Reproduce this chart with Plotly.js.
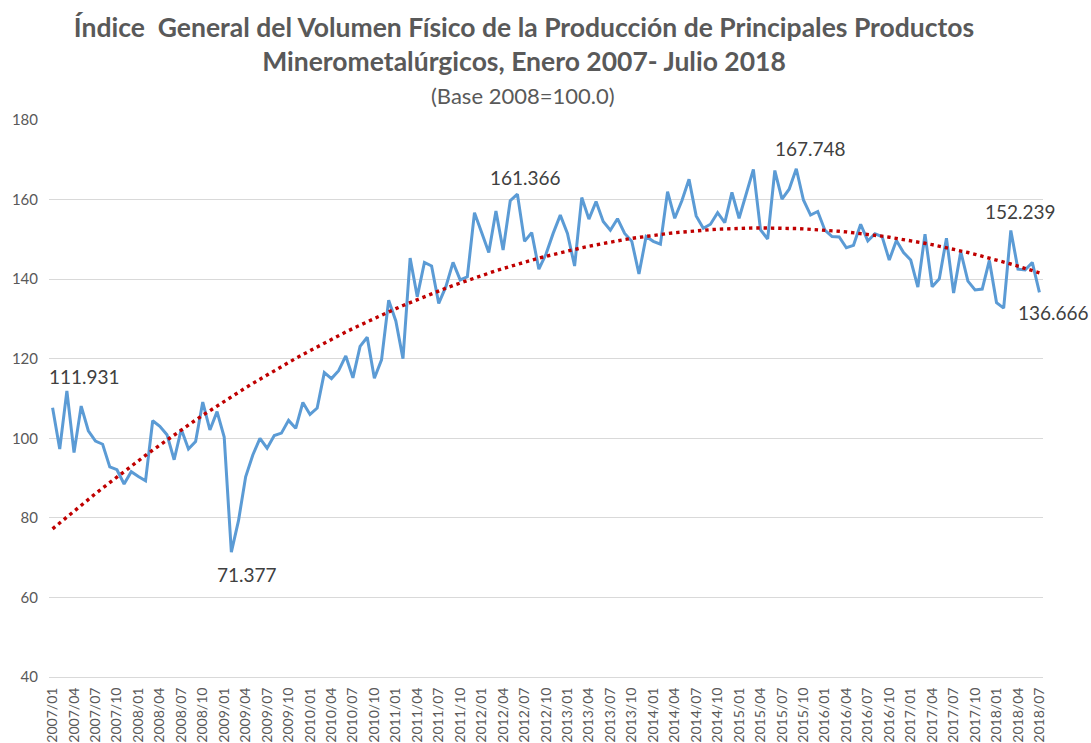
<!DOCTYPE html>
<html>
<head>
<meta charset="utf-8">
<script src="https://cdn.plot.ly/plotly-3.0.1.min.js"></script>
<style>
  html, body { margin: 0; padding: 0; background: #fff; }
  #chart { width: 1091px; height: 743px; }
</style>
</head>
<body>
<div id="chart"></div>
<script>
// Tick labels shown on the x axis (every third month)
const tickLabels = [
  "2007/01", "2007/04", "2007/07", "2007/10",
  "2008/01", "2008/04", "2008/07", "2008/10",
  "2009/01", "2009/04", "2009/07", "2009/10",
  "2010/01", "2010/04", "2010/07", "2010/10",
  "2011/01", "2011/04", "2011/07", "2011/10",
  "2012/01", "2012/04", "2012/07", "2012/10",
  "2013/01", "2013/04", "2013/07", "2013/10",
  "2014/01", "2014/04", "2014/07", "2014/10",
  "2015/01", "2015/04", "2015/07", "2015/10",
  "2016/01", "2016/04", "2016/07", "2016/10",
  "2017/01", "2017/04", "2017/07", "2017/10",
  "2018/01", "2018/04", "2018/07"
];

// Monthly index values, Jan 2007 - Jul 2018
const values2007 = [107.7, 97.3, 111.931, 96.4, 108.1, 101.9, 99.3, 98.5, 92.8, 92.1, 88.5, 91.6];
const values2008 = [90.4, 89.3, 104.4, 103.0, 100.9, 94.6, 102.3, 97.3, 99.2, 109.1, 102.1, 106.7];
const values2009 = [100.3, 71.377, 79.3, 90.3, 95.8, 100.0, 97.5, 100.7, 101.3, 104.5, 102.5, 109.0];
const values2010 = [106.0, 107.6, 116.5, 115.0, 117.0, 120.7, 115.2, 123.1, 125.4, 115.1, 119.7, 134.7];
const values2011 = [129.5, 120.0, 145.3, 135.6, 144.2, 143.3, 133.9, 138.1, 144.2, 139.8, 140.6, 156.7];
const values2012 = [151.7, 146.7, 157.1, 147.3, 159.7, 161.366, 149.5, 151.7, 142.5, 146.3, 151.5, 156.1];
const values2013 = [151.5, 143.3, 160.5, 155.1, 159.5, 154.5, 152.3, 155.2, 151.5, 149.5, 141.3, 150.7];
const values2014 = [149.5, 148.8, 162.0, 155.3, 159.7, 165.1, 155.9, 152.8, 153.8, 156.7, 154.2, 161.8];
const values2015 = [155.3, 161.2, 167.6, 152.4, 150.1, 167.3, 160.1, 162.6, 167.748, 159.9, 156.1, 157.0];
const values2016 = [152.3, 150.7, 150.6, 147.9, 148.5, 153.8, 149.6, 151.4, 150.7, 144.8, 149.7, 146.7];
const values2017 = [144.8, 138.0, 151.3, 138.1, 140.1, 150.3, 136.5, 146.9, 139.5, 137.3, 137.5, 144.7];
const values2018 = [134.1, 132.7, 152.239, 142.5, 142.3, 144.2, 136.666];

// Points that carry a data label in the original chart
const labelled = [2, 25, 65, 104, 134, 138];
const labelShift = [[18, 14], [16, -22], [8, 17], [14, 20], [10, 19], [14, -20]];

const values = [].concat(values2007, values2008, values2009, values2010, values2011,
  values2012, values2013, values2014, values2015, values2016, values2017, values2018);
const xIdx = values.map((v, i) => i);
const tickVals = tickLabels.map((t, i) => i * 3);

// Polynomial (order 2) trend line, least squares fit of the series
function quadFit(xs, ys) {
  let s = [0, 0, 0, 0, 0], t = [0, 0, 0];
  xs.forEach((x, i) => {
    for (let k = 0; k < 5; k++) s[k] += Math.pow(x, k);
    for (let k = 0; k < 3; k++) t[k] += ys[i] * Math.pow(x, k);
  });
  // solve 3x3 normal equations
  let m = [[s[0], s[1], s[2], t[0]], [s[1], s[2], s[3], t[1]], [s[2], s[3], s[4], t[2]]];
  for (let i = 0; i < 3; i++) {
    for (let j = i + 1; j < 3; j++) {
      const f = m[j][i] / m[i][i];
      for (let k = i; k < 4; k++) m[j][k] -= f * m[i][k];
    }
  }
  let c = [0, 0, 0];
  for (let i = 2; i >= 0; i--) {
    let sum = m[i][3];
    for (let k = i + 1; k < 3; k++) sum -= m[i][k] * c[k];
    c[i] = sum / m[i][i];
  }
  return xs.map(x => c[0] + c[1] * x + c[2] * x * x);
}
const trend = quadFit(xIdx.map(i => i + 1), values);

const greyText = "#595959";

let seriesTrace = {
  x: xIdx,
  y: values,
  type: "scatter",
  mode: "lines",
  line: { color: "#5b9bd5", width: 3 },
  hovertemplate: "%{y:.3f}<extra></extra>"
};

let trendTrace = {
  x: xIdx,
  y: trend,
  type: "scatter",
  mode: "lines",
  line: { color: "#c00000", width: 3.4, dash: "3.4px,3.9px" },
  hoverinfo: "skip"
};

let annotations = labelled.map((i, n) => ({
  x: i,
  y: values[i],
  xref: "x",
  yref: "y",
  text: values[i].toFixed(3),
  showarrow: false,
  xshift: labelShift[n][0],
  yshift: labelShift[n][1],
  font: { family: "Lato, sans-serif", size: 19, color: "#404040" }
}));

annotations.push({
  text: "(Base 2008=100.0)",
  xref: "paper",
  yref: "paper",
  x: (523 - 49) / 994,
  y: (677 - 96) / 557,
  xanchor: "center",
  yanchor: "middle",
  showarrow: false,
  font: { family: "Lato, sans-serif", size: 22, color: greyText }
});

let layout = {
  width: 1091,
  height: 743,
  margin: { l: 49, r: 48, t: 120, b: 66 },
  paper_bgcolor: "#ffffff",
  plot_bgcolor: "#ffffff",
  showlegend: false,
  title: {
    text: "<b>Índice\u00a0 General del Volumen Físico de la Producción de Principales Productos<br>Minerometalúrgicos, Enero 2007- Julio 2018</b>",
    xref: "container",
    yref: "container",
    x: 524 / 1091,
    xanchor: "center",
    y: 1 - 37 / 743,
    yanchor: "middle",
    font: { family: "Lato, sans-serif", size: 26.5, color: greyText }
  },
  xaxis: {
    range: [-0.5, 138.5],
    tickmode: "array",
    tickvals: tickVals,
    ticktext: tickLabels,
    tickangle: -90,
    showgrid: false,
    zeroline: false,
    showline: true,
    linecolor: "#d9d9d9",
    linewidth: 1,
    ticks: "",
    ticklabelstandoff: 4,
    tickfont: { family: "Lato, sans-serif", size: 14, color: greyText }
  },
  yaxis: {
    range: [40, 180],
    dtick: 20,
    tick0: 40,
    showgrid: true,
    gridcolor: "#d9d9d9",
    gridwidth: 1,
    zeroline: false,
    showline: false,
    ticks: "",
    ticklabelstandoff: 10,
    tickfont: { family: "Lato, sans-serif", size: 15, color: greyText }
  },
  annotations: annotations
};

Plotly.newPlot("chart", [seriesTrace, trendTrace], layout, { displayModeBar: false, staticPlot: true });
</script>
</body>
</html>
